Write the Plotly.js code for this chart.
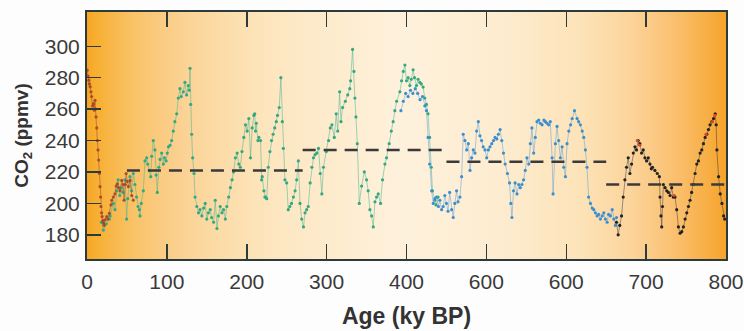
<!DOCTYPE html>
<html>
<head>
<meta charset="utf-8">
<script src="https://cdn.plot.ly/plotly-3.0.1.min.js"></script>
<style>html,body{margin:0;padding:0;background:#fdfdfd;}#chart{width:744px;height:331px;}</style>
</head>
<body>
<div id="chart"></div>
<script>
// ---- Data ----
const xTickVals = [0, 100, 200, 300, 400, 500, 600, 700, 800];
const xTickText = ["0", "100", "200", "300", "400", "600", "600", "700", "800"];
const yTickVals = [180, 200, 220, 240, 260, 280, 300];

// Record 1 (brown-red), 0-58 ky
const brownAge = [0.2,1.2,2.3,3,4,5,5.8,7,8,9.2,10,10.5,11.3,12.2,13,13.8,14.6,15.5,16.3,17,17.5,18.2,18.9,19.7,20.5,21.5,22.5,24.6,26,28,30,31,33,35,36.5,38,39.5,41.3,43.5,45,46.4,48,49,50.5,51.8,54,56,58];
const brownCO2 = [284.8,281,278.4,276,274.2,271,268,262,263.5,259.3,265.6,260,255,248,240,234,227.6,219,210.6,204,198,194,191.6,189,187.4,186,189.5,191.6,190,193.7,199,202,204,206,211,212.5,210,208,214.6,212,202,212,219,214,210.6,214.6,205,202];

// Record 2 (green), 18-440 ky
const greenAge = [18,20.5,24,28,29,33,35,37,39,41,43,45,47.5,49.6,51,53.8,55.9,58,60,62,64,65.5,66.3,68,70.5,72.6,74.7,76,78,79.8,81,83,85,86.5,88,90,91.5,93.5,95.6,97,99,100.5,102,104,106,108,110,112.3,114.3,116.4,118,120.6,122.6,124.7,126.8,128,129,129.8,131,132.3,134,135.3,137.5,139.6,141.5,143.8,146,148,150,152,154.3,156,158.5,160.6,162.7,164.5,166.8,169,171,173.2,175,177.4,179.5,181.6,183.5,185.8,188,190,192,194,196.3,198.4,200.5,202.6,204.7,206.8,208.9,210,211,212,214,215.2,217.3,218.6,219.4,221.5,222.7,223.6,225,227,229,231,233,235,237,238.5,240.7,242.7,244.5,245.8,247.8,250,252,254,256,258.4,260.5,262.5,264.6,266.7,268.8,271,273,275,277,279.4,281.5,283.5,285.5,287.7,289.8,292,294,296,299.5,302.5,304.6,306.6,309.6,312,313.9,316.3,318,320,323.5,326.4,329,330,332.5,334.2,335.4,336.7,338.4,340.9,343.8,347.2,350,352,354.2,356.3,358.4,360.5,362.5,364.6,367.5,370,373,375,378.3,381,383.3,385.4,387.6,391.7,393.8,396,398,400,402,404.2,406,408.3,410,412.5,414.5,416.7,418.5,420.8,422.9,425,427,429,431,432.5,435.4,437,439.6];
const greenCO2 = [188,183,187,190,192,200,196,208,215,205,210,207,215,190,203,217,208,219,212,204,198,196,192,200,208,227,229,225,221,217,230,240,234,218,207,223,228,232,225,229,227,232,236,237,240,246,252,257,267,273,268,271,277,269,275,272,286,263,244,229,219,204,198,194,196,192,197,200,190,194,196,191,188,202,184,192,198,194,196,190,198,204,210,215,220,229,232,225,223,233,242,250,246,254,229,248,256,257,246,251,240,242,240,215,217,208,204,204,203,223,233,240,244,248,252,256,261,280,252,235,215,213,196,198,200,204,208,215,227,200,190,185,194,196,198,213,223,229,231,232,235,219,206,223,233,240,248,250,242,257,246,271,252,261,265,269,273,278,298,284,267,255,238,200,211,220,215,208,196,192,185,201,204,206,200,215,225,229,238,246,252,259,265,271,278,284,288,278,280,275,279,285,280,275,279,277,276,274,267,263,257,242,223,208,202,199,204];

// Record 3 (blue), 393-663 ky
const blueAge = [393,396,399,402,405,408,411,414,417,420,423,425,427,429,431.5,433.5,435.5,437.6,440,441.8,444,446,448,450,452,454,456.5,458.5,460.5,462.7,464.5,466.9,469,471,473.2,475.3,477.4,479.5,481.5,483.6,485.7,487.8,489.9,492,494,496,498.3,500.4,502.5,504.5,506.7,509,510.9,513,515,517.2,519.3,521.4,523.5,526.4,529,530.6,532,534,536,538.3,540.5,542.4,544.5,546.6,548.7,550.8,553,555,557,559.2,561.3,563.4,565.5,567.5,569.7,572,573.9,576,578,580,582.3,583.5,586.4,588.5,590.5,592.7,594.8,596.9,599,601,603.2,605.5,607.4,610.3,613.6,615.5,617.7,620,621.9,624,626,628,630.3,632.5,634.5,636.5,638.7,640.5,642.8,645,647,649,651.2,653,655.4,657.5,659.5,661.6,663];
const blueCO2 = [259,265,270,268,272,270,273,270,266,268,262,259,242,225,208,200,203,204,198,202,196,198,205,200,195,207,196,191,200,208,201,204,217,244,240,234,238,221,229,234,232,246,252,243,240,236,234,229,234,236,238,240,242,241,244,247,240,232,225,219,213,200,191,208,213,206,212,210,212,215,221,229,225,238,248,232,242,252,253,251,250,253,252,251,250,252,229,206,238,249,240,229,236,223,217,238,246,250,254,259,254,252,250,246,242,234,223,204,200,197,196,194,192,193,190,192,194,190,188,193,192,196,190,186,191];

// Record 4 (black), 663-800 ky
const blackAge = [663,665,667,669.2,671.3,673.4,675.5,677.6,679.7,681.8,683.9,686,688,690,692.2,694.3,696.4,698.5,700.6,702.7,704.8,706.5,708,711,714,716.6,717.4,718.6,719.5,720.5,721.6,723.7,725.8,727.9,730,732,734,736.2,738.3,740.4,742.5,744.6,746.7,748.8,750.9,753,755,757,759.2,761.3,763.4,765.5,767.6,769.7,771.8,773.9,776,778,780,782.3,784.4,786.5,787.7,788.6,790.7,792.8,794.9,797,798.3];
const blackCO2 = [188,180,186,192,204,215,223,229,219,225,232,236,234,240,238,232,234,229,227,229,225,222,223,221,219,217,204,192,185,198,212,210,208,207,205,210,204,204,196,185,181,182,185,190,194,198,202,207,212,219,225,227,232,234,238,242,244,247,250,252,254,257,250,234,217,206,200,192,190];

// Record 4b (red points within the black record)
const redAge = [689, 692, 735, 760, 775, 783, 786];
const redCO2 = [240, 237, 205, 212, 244, 252, 256];

// Mean levels (dashed)
const meanStart = [50, 270, 450, 650];
const meanEnd = [270, 445, 650, 800];
const meanCO2 = [221, 234, 226.5, 212];

// ---- Build traces ----
function series(x, y, mc, lc, sz) {
  return {x: x, y: y, type: 'scatter', mode: 'lines+markers',
    line: {color: lc, width: 1}, marker: {color: mc, size: sz}, hoverinfo: 'skip', showlegend: false};
}
const mx = [], my = [];
for (let i = 0; i < meanCO2.length; i++) {
  mx.push(meanStart[i], meanEnd[i], null);
  my.push(meanCO2[i], meanCO2[i], null);
}
const traces = [
  series(greenAge, greenCO2, '#34a882', 'rgba(80,180,145,0.55)', 3.2),
  series(brownAge, brownCO2, 'rgba(160,65,40,0.85)', 'rgba(160,65,40,0.5)', 3.2),
  series(blueAge, blueCO2, '#3b8fcf', 'rgba(90,155,210,0.5)', 3.2),
  series(blackAge, blackCO2, '#222222', 'rgba(60,60,60,0.5)', 3.2),
  {x: redAge, y: redCO2, type: 'scatter', mode: 'markers', marker: {color: '#e0452a', size: 3.2}, hoverinfo: 'skip', showlegend: false},
  {x: mx, y: my, type: 'scatter', mode: 'lines', line: {color: '#3a3a3a', width: 2.5, dash: '13px,8px'}, hoverinfo: 'skip', showlegend: false}
];

// ---- Background gradient for the plot area ----
const stops = [
  [0, '#f6a522'], [0.01, '#f7ad2e'], [0.07, '#f9c266'], [0.15, '#fbd294'],
  [0.23, '#fcdfae'], [0.3, '#fde7c2'], [0.49, '#fef1dc'], [0.646, '#fdecd0'],
  [0.772, '#fde3b8'], [0.85, '#fcd49c'], [0.93, '#fabd68'], [1, '#f6a42a']
];
let svg = "<svg xmlns='http://www.w3.org/2000/svg' width='640' height='247' preserveAspectRatio='none'><defs><linearGradient id='g' x1='0' x2='1' y1='0' y2='0'>";
stops.forEach(s => { svg += "<stop offset='" + s[0] + "' stop-color='" + s[1] + "'/>"; });
svg += "</linearGradient></defs><rect width='640' height='247' fill='url(#g)'/></svg>";
const bgSrc = 'data:image/svg+xml;base64,' + btoa(svg);

const axisColor = '#2b3a3a';
const fontFam = 'Liberation Sans, Arial, Helvetica, sans-serif';
const layout = {
  width: 744, height: 331,
  margin: {l: 87, r: 18, t: 12, b: 72},
  paper_bgcolor: '#fdfdfd',
  plot_bgcolor: 'rgba(0,0,0,0)',
  images: [{source: bgSrc, xref: 'paper', yref: 'paper', x: 0, y: 1, sizex: 1, sizey: 1,
    xanchor: 'left', yanchor: 'top', sizing: 'stretch', layer: 'below'}],
  xaxis: {
    range: [0, 800], tickmode: 'array', tickvals: xTickVals, ticktext: xTickText,
    ticks: 'inside', ticklen: 15, tickwidth: 1.5, tickcolor: axisColor,
    showline: true, linewidth: 2, linecolor: axisColor, mirror: 'ticks',
    showgrid: false, zeroline: false, ticklabelstandoff: 3,
    tickfont: {family: fontFam, size: 21, color: '#3a3a3a'},
    title: {text: 'Age (ky BP)', standoff: 16, font: {family: fontFam, size: 23, color: '#333', weight: 'bold'}}
  },
  yaxis: {
    range: [164.6, 321.8], tickmode: 'array', tickvals: yTickVals,
    ticks: 'inside', ticklen: 14, tickwidth: 1.5, tickcolor: axisColor,
    showline: true, linewidth: 2, linecolor: axisColor, mirror: true,
    showgrid: false, zeroline: false, ticklabelstandoff: 1,
    tickfont: {family: fontFam, size: 21, color: '#3a3a3a'},
    title: {text: 'CO<sub>2</sub> (ppmv)', standoff: 11, font: {family: fontFam, size: 19, color: '#333', weight: 'bold'}}
  }
};
Plotly.newPlot('chart', traces, layout, {staticPlot: true, displayModeBar: false});
</script>
</body>
</html>
